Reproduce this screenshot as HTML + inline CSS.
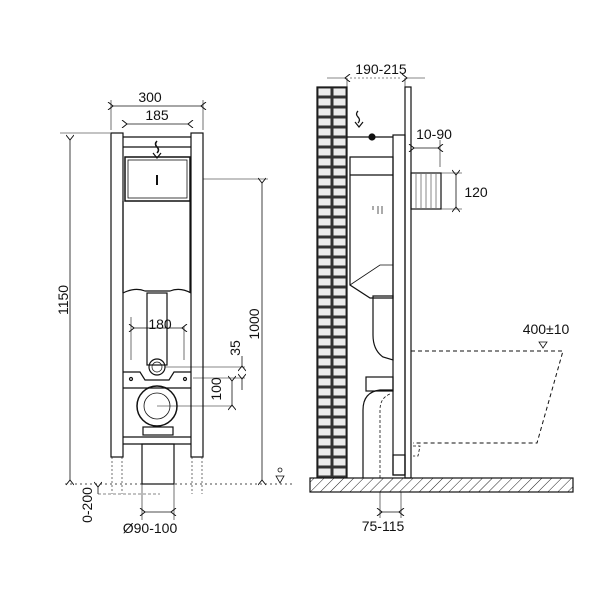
<!DOCTYPE html>
<html><head><style>body{margin:0;background:#fff}svg{display:block}text{font-family:"Liberation Sans",sans-serif;font-size:14px;fill:#111}</style></head>
<body>
<svg width="600" height="600" viewBox="0 0 600 600" xmlns="http://www.w3.org/2000/svg">
<defs>
<pattern id="brick" x="317" y="87" width="15" height="10" patternUnits="userSpaceOnUse">
<rect width="15" height="10" fill="#333"/><rect x="1.5" y="1.5" width="12" height="7" fill="#ececec"/>
</pattern>
<pattern id="hatch" width="7" height="7" patternUnits="userSpaceOnUse" patternTransform="rotate(45)">
<rect width="7" height="7" fill="#fff"/><line x1="0" y1="0" x2="0" y2="7" stroke="#222" stroke-width="1"/>
</pattern>
<marker id="a" markerWidth="8" markerHeight="8" refX="1" refY="4" orient="auto-start-reverse" markerUnits="userSpaceOnUse"><path d="M6,0 L1,4 L6,8" fill="none" stroke="#111"/></marker>
</defs>
<g fill="none" stroke="#111" stroke-width="1.2">
<rect x="111" y="133" width="12" height="324"/>
<rect x="191" y="133" width="12" height="324"/>
<line x1="123" y1="137" x2="191" y2="137"/><line x1="123" y1="147" x2="191" y2="147"/>
<rect x="125" y="157" width="65" height="44" stroke-width="1.5"/>
<rect x="128" y="160" width="59" height="38" stroke-width="0.8"/>
<line x1="157" y1="175" x2="157" y2="185" stroke-width="2"/>
<line x1="123" y1="201" x2="123" y2="293"/><line x1="190" y1="201" x2="190" y2="293"/>
<path d="M123,293 Q135,287 145,291 L170,291 Q180,287 191,293"/>
<rect x="147" y="293" width="20" height="72"/>
<circle cx="157" cy="367" r="8"/><circle cx="157" cy="367" r="5" stroke-width="0.7"/>
<path d="M123,372 L140,372 L145,380 L169,380 L174,372 L191,372"/>
<line x1="123" y1="388" x2="191" y2="388"/>
<circle cx="131" cy="379" r="1.5"/><circle cx="185" cy="379" r="1.5"/>
<circle cx="157" cy="406" r="20" stroke-width="1.5"/><circle cx="157" cy="406" r="13" stroke-width="0.8"/>
<rect x="143" y="427" width="30" height="8"/>
<line x1="123" y1="437" x2="191" y2="437"/><line x1="123" y1="444" x2="191" y2="444"/>
<rect x="142" y="444" width="32" height="40"/>
<path d="M157,141 q-3,3 0,6 q3,3 0,6" stroke-width="1.5"/><path d="M153,153 L157,158 L161,153"/>
<line x1="111" y1="100" x2="111" y2="130" stroke-width="0.6"/><line x1="203" y1="100" x2="203" y2="130" stroke-width="0.6"/>
<line x1="113" y1="106" x2="201" y2="106" stroke-width="0.8" marker-start="url(#a)" marker-end="url(#a)"/>
<line x1="127" y1="124" x2="188" y2="124" stroke-width="0.8" marker-start="url(#a)" marker-end="url(#a)"/>
<line x1="60" y1="133" x2="110" y2="133" stroke-width="0.6"/>
<line x1="70" y1="140" x2="70" y2="480" stroke-width="0.8" marker-start="url(#a)" marker-end="url(#a)"/>
<line x1="203" y1="179" x2="268" y2="179" stroke-width="0.6"/>
<line x1="262" y1="183" x2="262" y2="480" stroke-width="0.8" marker-start="url(#a)" marker-end="url(#a)"/>
<line x1="131" y1="317" x2="131" y2="360" stroke-width="0.6"/><line x1="184" y1="326" x2="184" y2="360" stroke-width="0.6"/>
<line x1="134" y1="328" x2="182" y2="328" stroke-width="0.8" marker-start="url(#a)" marker-end="url(#a)"/>
<line x1="165" y1="367" x2="245" y2="367" stroke-width="0.6"/><line x1="193" y1="378" x2="245" y2="378" stroke-width="0.6"/>
<line x1="242" y1="356" x2="242" y2="366" stroke-width="0.8" marker-end="url(#a)"/>
<line x1="242" y1="390" x2="242" y2="379" stroke-width="0.8" marker-end="url(#a)"/>
<line x1="157" y1="406" x2="233" y2="406" stroke-width="0.6"/>
<line x1="232" y1="381" x2="232" y2="405" stroke-width="0.8" marker-start="url(#a)" marker-end="url(#a)"/>
<line x1="65" y1="484" x2="292" y2="484" stroke-width="0.8" stroke-dasharray="2,3"/>
<line x1="98" y1="494" x2="160" y2="494" stroke-width="0.6" stroke-dasharray="3,2"/>
<line x1="98" y1="487" x2="98" y2="494" stroke-width="0.8" marker-start="url(#a)"/>
<g stroke-width="0.6" stroke-dasharray="2,2"><line x1="112" y1="457" x2="112" y2="494"/><line x1="122" y1="457" x2="122" y2="494"/><line x1="192" y1="457" x2="192" y2="494"/><line x1="202" y1="457" x2="202" y2="494"/></g>
<line x1="142" y1="484" x2="142" y2="520" stroke-width="0.6"/><line x1="174" y1="484" x2="174" y2="520" stroke-width="0.6"/>
<line x1="145" y1="512" x2="171" y2="512" stroke-width="0.8" marker-start="url(#a)" marker-end="url(#a)"/>
<path d="M276,476 L284,476 L280,483 Z" stroke-width="0.8"/><circle cx="280" cy="470" r="2" stroke-width="0.8"/>
<rect x="317" y="87" width="30" height="393" fill="url(#brick)" stroke="#111"/>
<rect x="310" y="478" width="263" height="14" fill="url(#hatch)"/>
<rect x="405" y="87" width="6" height="391"/>
<rect x="393" y="135" width="12" height="340"/>
<line x1="347" y1="137" x2="393" y2="137"/>
<circle cx="372" cy="137" r="3" fill="#111"/>
<path d="M350,157 L393,157 L393,298 L370,298 L350,285 Z"/>
<line x1="350" y1="175" x2="393" y2="175"/>
<path d="M350,285 L380,265 L393,265" stroke-width="0.8"/>
<path d="M373,296 L393,296 L393,360 L383,357 Q373,350 373,335 Z"/>
<rect x="366" y="377" width="27" height="14"/>
<path d="M363,478 L363,410 Q363,392 380,390 L393,390"/>
<path d="M380,478 L380,410 Q380,398 390,394" stroke-dasharray="3,2" stroke-width="0.8"/>
<rect x="393" y="455" width="12" height="20"/>
<path d="M373,206 L373,210 M378,206 L378,214 M382,206 L382,214" stroke-width="0.7"/>
<rect x="411" y="173" width="30" height="36"/>
<g stroke-width="0.5"><line x1="416" y1="174" x2="416" y2="208"/><line x1="421" y1="174" x2="421" y2="208"/><line x1="426" y1="174" x2="426" y2="208"/><line x1="431" y1="174" x2="431" y2="208"/><line x1="436" y1="174" x2="436" y2="208"/></g>
<path d="M411,351 L563,351 L537,443 L413,443" stroke-dasharray="4,3" stroke-width="1"/>
<path d="M413,446 L420,446 L418,456 L413,456" stroke-dasharray="3,2" stroke-width="0.8"/>
<path d="M358,111 q-3,3 0,6 q3,3 0,6" stroke-width="1.3"/><path d="M355,122 L359,127 L363,122"/>
<line x1="347" y1="78" x2="347" y2="95" stroke-width="0.6"/><line x1="405" y1="78" x2="405" y2="95" stroke-width="0.6"/>
<line x1="327" y1="78" x2="345" y2="78" stroke-width="0.6" marker-end="url(#a)"/>
<line x1="350" y1="78" x2="402" y2="78" stroke-width="0.6" stroke-dasharray="2,2"/>
<line x1="425" y1="78" x2="407" y2="78" stroke-width="0.6" marker-end="url(#a)"/>
<line x1="440" y1="140" x2="440" y2="167" stroke-width="0.6"/>
<line x1="414" y1="148" x2="438" y2="148" stroke-width="0.8" marker-start="url(#a)" marker-end="url(#a)"/>
<line x1="441" y1="173" x2="462" y2="173" stroke-width="0.6"/><line x1="441" y1="209" x2="462" y2="209" stroke-width="0.6"/>
<line x1="456" y1="175" x2="456" y2="207" stroke-width="0.8" marker-start="url(#a)" marker-end="url(#a)"/>
<path d="M539,342 L547,342 L543,348 Z" stroke-width="0.8"/>
<line x1="380" y1="492" x2="380" y2="518" stroke-width="0.6"/><line x1="401" y1="492" x2="401" y2="518" stroke-width="0.6"/>
<line x1="382" y1="512" x2="399" y2="512" stroke-width="0.8" marker-start="url(#a)" marker-end="url(#a)"/>
</g>
<text x="150" y="102" text-anchor="middle">300</text>
<text x="157" y="120" text-anchor="middle">185</text>
<text x="160" y="329" text-anchor="middle">180</text>
<text transform="translate(68,300) rotate(-90)" text-anchor="middle">1150</text>
<text transform="translate(259,324) rotate(-90)" text-anchor="middle">1000</text>
<text transform="translate(240,348) rotate(-90)" text-anchor="middle">35</text>
<text transform="translate(221,389) rotate(-90)" text-anchor="middle">100</text>
<text transform="translate(92,505) rotate(-90)" text-anchor="middle">0-200</text>
<text x="150" y="533" text-anchor="middle">Ø90-100</text>
<text x="381" y="74" text-anchor="middle">190-215</text>
<text x="434" y="139" text-anchor="middle">10-90</text>
<text x="476" y="197" text-anchor="middle">120</text>
<text x="546" y="334" text-anchor="middle">400±10</text>
<text x="383" y="531" text-anchor="middle">75-115</text>
</svg>
</body></html>
